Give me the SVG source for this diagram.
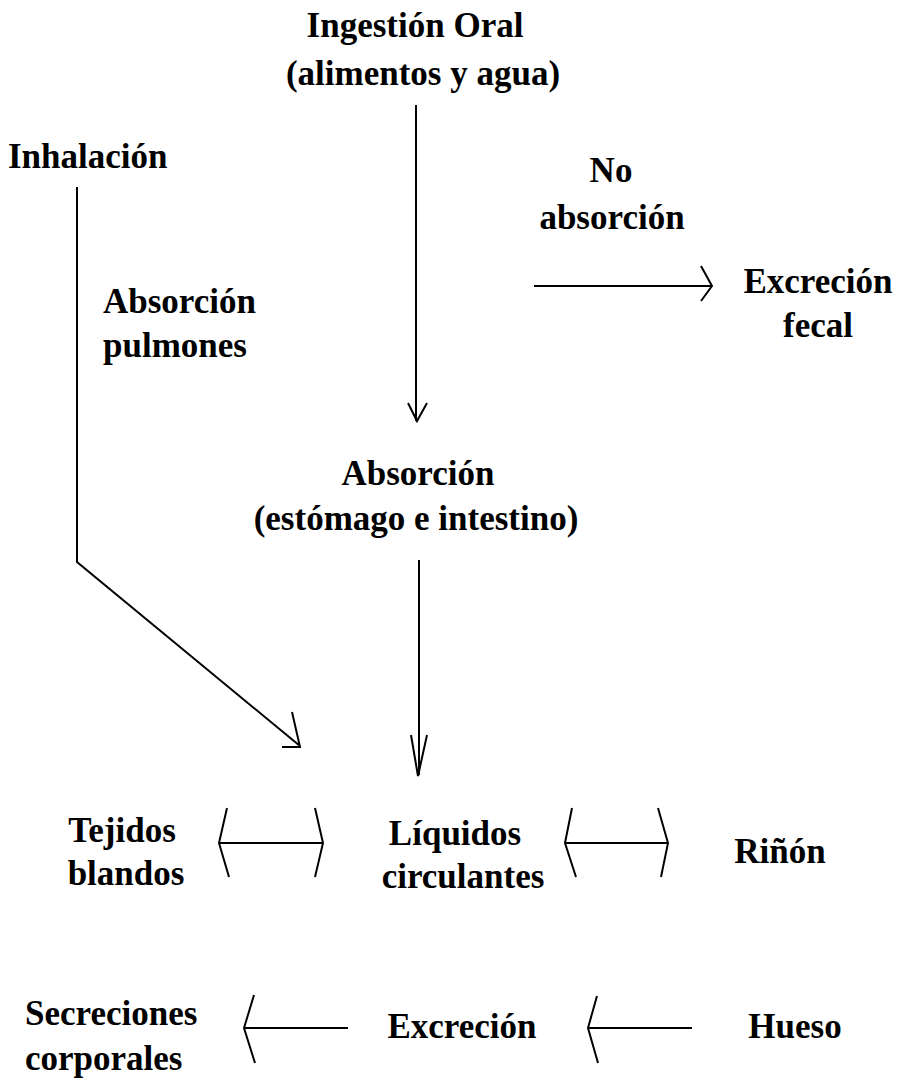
<svg xmlns="http://www.w3.org/2000/svg" width="902" height="1083" viewBox="0 0 902 1083">
<style>
text{font-family:"Liberation Serif","Times New Roman",serif;font-weight:bold;font-size:35px;fill:#000}
.c{text-anchor:middle}
.ln{fill:none;stroke:#000;stroke-width:2;stroke-linejoin:miter;stroke-linecap:butt}
</style>
<rect width="902" height="1083" fill="#fff"/>
<g id="ingestion"><text class="c" x="415" y="37">Ingestión Oral</text><text class="c" x="423" y="85">(alimentos y agua)</text></g>
<g id="inhalacion"><text x="8" y="168">Inhalación</text></g>
<g id="no-absorcion"><text class="c" x="611" y="182">No</text><text class="c" x="612" y="229">absorción</text></g>
<g id="excrecion-fecal"><text class="c" x="818" y="293">Excreción</text><text class="c" x="818" y="337">fecal</text></g>
<g id="absorcion-pulmones"><text x="103" y="313">Absorción</text><text x="103" y="357">pulmones</text></g>
<g id="absorcion"><text class="c" x="418" y="485">Absorción</text><text class="c" x="416" y="530">(estómago e intestino)</text></g>
<g id="tejidos"><text class="c" x="122" y="842">Tejidos</text><text class="c" x="126" y="885">blandos</text></g>
<g id="liquidos"><text class="c" x="455" y="845">Líquidos</text><text class="c" x="463" y="888">circulantes</text></g>
<g id="rinon"><text class="c" x="780" y="863">Riñón</text></g>
<g id="secreciones"><text x="25" y="1025">Secreciones</text><text x="25" y="1070">corporales</text></g>
<g id="excrecion"><text class="c" x="462" y="1038">Excreción</text></g>
<g id="hueso"><text class="c" x="795" y="1038">Hueso</text></g>
<g id="connectors">
<path class="ln" d="M416 105V421M408 403L417 421L427 403"/>
<path class="ln" d="M534 286H711M701 266L712 286L701 301"/>
<path class="ln" d="M77 187V562L300 746M292 712L300 747M282 747H301"/>
<path class="ln" d="M419 560V775M411 735L418 776L427 735"/>
<path class="ln" d="M219 843H323M227 808L219 843L229 877M315 808L323 843L315 877"/>
<path class="ln" d="M565 843H668M572 808L565 843L576 877M658 808L668 843L661 877"/>
<path class="ln" d="M244 1028H348M254 995L244 1028L255 1063"/>
<path class="ln" d="M588 1028H692M597 996L588 1028L598 1063"/>
</g>
</svg>
